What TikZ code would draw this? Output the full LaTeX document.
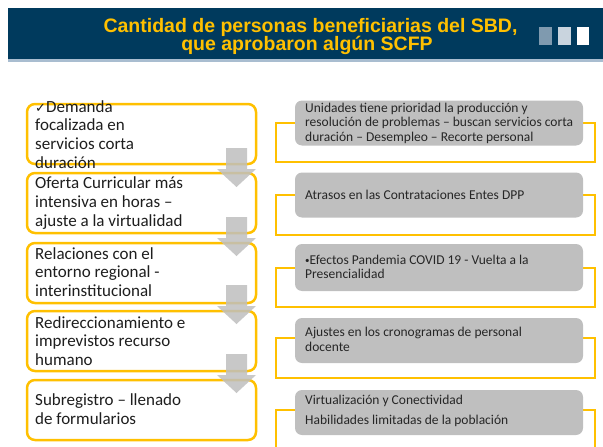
\documentclass[tikz,border=0pt]{standalone}
\usepackage{fontspec}
\setmainfont{Carlito}
\newfontfamily\titlefont{Liberation Sans}
\newfontfamily\symfont{DejaVu Sans}
\definecolor{hdr}{HTML}{003A5D}
\definecolor{hdrline}{HTML}{A9BDD0}
\definecolor{gold}{HTML}{FFC000}
\definecolor{sqa}{HTML}{7F9AAF}
\definecolor{sqb}{HTML}{C9D4DE}
\definecolor{grayfill}{HTML}{BFBFBF}
\definecolor{txtdark}{HTML}{1E1E1E}
\definecolor{txtgray}{HTML}{262626}
\tikzset{
  leftbox/.style={draw=gold, line width=2.5pt, fill=white, rounded corners=8pt,
    minimum width=229pt, minimum height=60pt, inner sep=0pt},
  graybox/.style={fill=grayfill, rounded corners=7pt,
    minimum width=288pt, minimum height=45pt, inner sep=0pt},
  yellowframe/.style={draw=gold, line width=2.5pt, minimum width=319pt,
    minimum height=39pt, inner sep=0pt},
  lefttext/.style={anchor=west, inner sep=0pt, align=left, text=txtdark,
    font=\fontsize{17}{18.7}\selectfont},
  righttext/.style={anchor=west, inner sep=0pt, align=left, text=txtgray,
    font=\fontsize{13.5}{14.5}\selectfont},
  titletext/.style={anchor=base, inner sep=0pt, text=gold,
    font=\titlefont\bfseries\fontsize{19.5}{20}\selectfont},
  downarrow/.style={fill=grayfill, fill opacity=0.85}
}
\begin{document}
\begin{tikzpicture}[x=1pt,y=-1pt]
\useasboundingbox (0,0) rectangle (603,447);
% header
\fill[hdr] (8,8) rectangle (603,59);
\fill[hdrline] (8,59) rectangle (603,61.5);
\node[titletext] (T1) at (310.5,32) {Cantidad de personas beneficiarias del SBD,};
\node[titletext] (T2) at (307,50) {que aprobaron algún SCFP};
\fill[sqa] (539,27) rectangle (552,45);
\fill[sqb] (558,27) rectangle (571,45);
\fill[white] (577,27) rectangle (589,45);

% yellow frames (behind gray boxes)
\node[yellowframe] (Y1) at (435.5,142.5) {};
\node[yellowframe, minimum height=40pt] (Y2) at (435.5,215) {};
\node[yellowframe] (Y3) at (435.5,287.5) {};
\node[yellowframe, minimum height=40pt] (Y4) at (435.5,358) {};
\draw[gold, line width=2.5pt] (276,450) -- (276,410) -- (595,410) -- (595,450);

% gray boxes
\node[graybox] (R1) at (439,123) {};
\node[graybox] (R2) at (439,195) {};
\node[graybox, minimum height=47pt] (R3) at (439,267.5) {};
\node[graybox] (R4) at (439,340.5) {};
\node[graybox] (R5) at (439,412.5) {};

\node[righttext] (RT1) at (305,123) {Unidades tiene prioridad la producción y\\resolución de problemas – buscan servicios corta\\duración – Desempleo – Recorte personal};
\node[righttext] (RT2) at (305,195) {Atrasos en las Contrataciones Entes DPP};
\node[righttext] (RT3) at (305,267) {{\fontsize{9}{10}\selectfont\raisebox{1pt}{•}}Efectos Pandemia COVID 19 - Vuelta a la\\Presencialidad};
\node[righttext] (RT4) at (305,339.5) {Ajustes en los cronogramas de personal\\docente};
\node[righttext, font=\fontsize{13.5}{20}\selectfont] (RT5) at (305,411) {Virtualización y Conectividad\\Habilidades limitadas de la población};

% left boxes
\node[leftbox] (L1) at (141.5,134) {};
\node[leftbox] (L2) at (141.5,203) {};
\node[leftbox] (L3) at (141.5,273) {};
\node[leftbox] (L4) at (141.5,341) {};
\node[leftbox] (L5) at (141.5,410) {};

\node[lefttext] (LT1) at (35,134.5) {{\symfont\fontsize{13}{14}\selectfont ✓}Demanda\\focalizada en\\servicios corta\\duración};
\node[lefttext] (LT2) at (35,203) {Oferta Curricular más\\intensiva en horas –\\ajuste a la virtualidad};
\node[lefttext] (LT3) at (35,272) {Relaciones con el\\entorno regional -\\interinstitucional};
\node[lefttext] (LT4) at (35,341) {Redireccionamiento e\\imprevistos recurso\\humano};
\node[lefttext] (LT5) at (35,409) {Subregistro – llenado\\de formularios};

% down arrows between left boxes
\fill[downarrow] (226,148) -- (247,148) -- (247,169) -- (256,169) -- (236.5,187) -- (217,169) -- (226,169) -- cycle;
\fill[downarrow] (226,217) -- (247,217) -- (247,238) -- (256,238) -- (236.5,256) -- (217,238) -- (226,238) -- cycle;
\fill[downarrow] (226,285) -- (247,285) -- (247,306) -- (256,306) -- (236.5,324) -- (217,306) -- (226,306) -- cycle;
\fill[downarrow] (226,354) -- (247,354) -- (247,375) -- (256,375) -- (236.5,393) -- (217,375) -- (226,375) -- cycle;
\end{tikzpicture}
\end{document}
